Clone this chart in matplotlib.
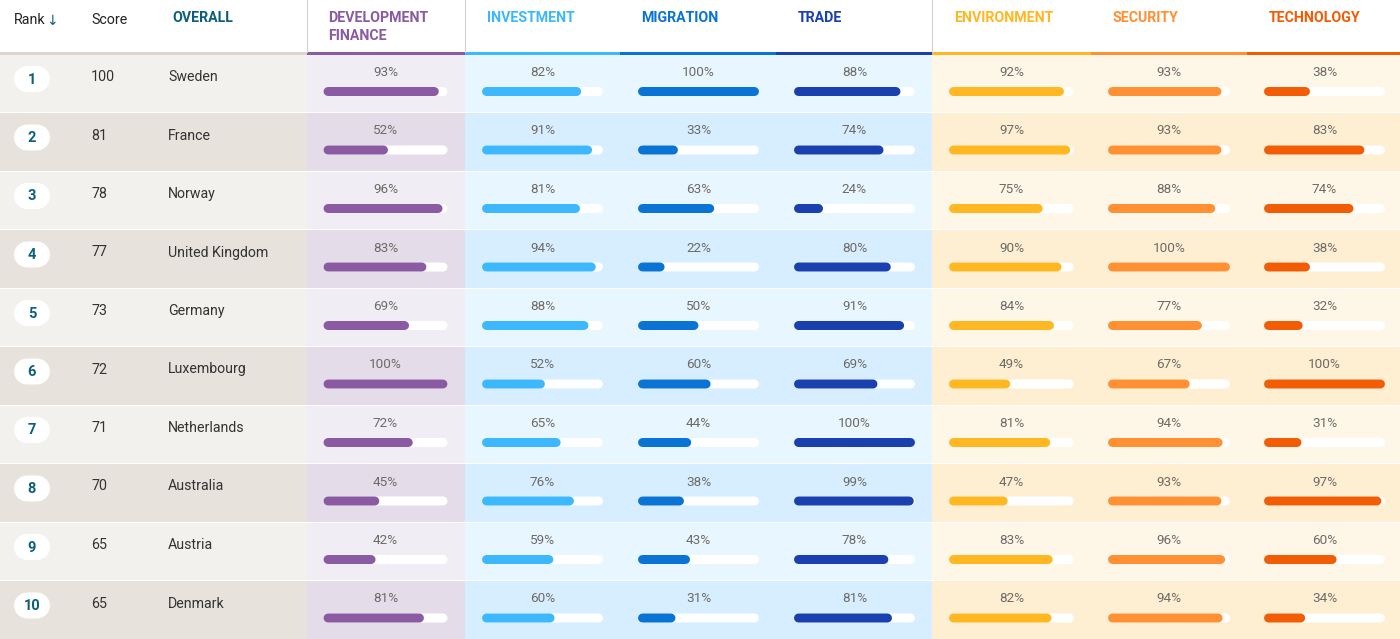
import matplotlib
matplotlib.use("Agg")
import matplotlib.pyplot as plt
from matplotlib.patches import Rectangle

ranks = list(range(1, 11))
scores = [100, 81, 78, 77, 73, 72, 71, 70, 65, 65]
countries = ["Sweden", "France", "Norway", "United Kingdom", "Germany",
             "Luxembourg", "Netherlands", "Australia", "Austria", "Denmark"]
development_finance = [93, 52, 96, 83, 69, 100, 72, 45, 42, 81]
investment = [82, 91, 81, 94, 88, 52, 65, 76, 59, 60]
migration = [100, 33, 63, 22, 50, 60, 44, 38, 43, 31]
trade = [88, 74, 24, 80, 91, 69, 100, 99, 78, 81]
environment = [92, 97, 75, 90, 84, 49, 81, 47, 83, 82]
security = [93, 93, 88, 100, 77, 67, 94, 93, 96, 94]
technology = [38, 83, 74, 38, 32, 100, 31, 97, 60, 34]

series = [development_finance, investment, migration, trade, environment, security, technology]
headers = [["DEVELOPMENT", "FINANCE"], ["INVESTMENT"], ["MIGRATION"], ["TRADE"],
           ["ENVIRONMENT"], ["SECURITY"], ["TECHNOLOGY"]]
colors = ["#8a5ba2", "#3db8fd", "#0a74d4", "#1a3fae", "#ffb722", "#ff9033", "#f25c05"]
bg_light = ["#f1edf5", "#e8f6ff", "#e8f6ff", "#e8f6ff", "#fef7e8", "#fef7e8", "#fef7e8"]
bg_dark = ["#e5dcea", "#d6eeff", "#d6eeff", "#d6eeff", "#feefd3", "#feefd3", "#feefd3"]
col_edges = [307, 465, 620, 776, 932, 1091, 1247, 1400]
bar_x0 = [323.5, 482, 638, 794, 949, 1108, 1264]
bar_w = [124, 121, 121, 121, 125, 122, 121]
head_x = [328.5, 486.7, 641.5, 797.5, 953.7, 1112.7, 1268.5]

TEAL = "#0b5f7c"
ROW_H = 58.5
TOP = 54.5
plt.rcParams["font.family"] = ["Roboto", "DejaVu Sans"]

fig = plt.figure(figsize=(14, 6.39), dpi=100, facecolor="white")
ax = fig.add_axes([0, 0, 1, 1])
ax.set_xlim(0, 1400)
ax.set_ylim(639, 0)
ax.axis("off")


def pill(x, y, w, h, color, z):
    r = h / 2
    ax.plot([x + r, x + max(w - r, r + 0.01)], [y + r, y + r], color=color,
            lw=h * 0.72, solid_capstyle="round", zorder=z, snap=False)


for i, (rk, sc, name) in enumerate(zip(ranks, scores, countries)):
    y = TOP + i * ROW_H
    shade = "#f3f1ee" if i % 2 == 0 else "#e7e2dc"
    ax.add_patch(Rectangle((0, y), 307, ROW_H - 1, fc=shade, ec="none", zorder=1))
    pill(14, y + 11.5, 36, 26, "white", 3)
    ax.text(32, y + 25, str(rk), ha="center", va="center", fontsize=10.5, fontweight="bold", color=TEAL, zorder=4)
    ax.text(91, y + 22.5, str(sc), ha="left", va="center", fontsize=10.3, color="#333333", zorder=4)
    ax.text(168, y + 22.5, name, ha="left", va="center", fontsize=10.2, color="#333333", zorder=4)
    for j, vals in enumerate(series):
        ax.add_patch(Rectangle((col_edges[j], y), col_edges[j + 1] - col_edges[j], ROW_H - 1,
                               fc=(bg_light if i % 2 == 0 else bg_dark)[j], ec="none", zorder=1))
        ax.text(bar_x0[j] + bar_w[j] / 2, y + 18, f"{vals[i]}%", ha="center", va="center",
                fontsize=9.7, color="#6e6a66", zorder=4)
        pill(bar_x0[j], y + 32.5, bar_w[j], 9, "white", 2)
        pill(bar_x0[j], y + 32.5, bar_w[j] * vals[i] / 100, 9, colors[j], 3)

# Header
ax.text(14, 20.5, "Rank", ha="left", va="center", fontsize=10.3, color="#222222")
ax.text(46, 20.5, "↓", ha="left", va="center", fontsize=10, color=TEAL, family="DejaVu Sans")
ax.text(91, 20.5, "Score", ha="left", va="center", fontsize=10.3, color="#222222")
ax.text(172, 18, "OVERALL", ha="left", va="center", fontsize=10.2, fontweight="bold", color=TEAL)
ax.add_patch(Rectangle((0, 52), 307, 3, fc="#ddd6cf", ec="none", zorder=2))
for j, lines in enumerate(headers):
    for k, line in enumerate(lines):
        ax.text(head_x[j], 18 + 17.5 * k, line, ha="left", va="center", fontsize=10.2,
                fontweight="bold", color=colors[j])
    ax.add_patch(Rectangle((col_edges[j], 52), col_edges[j + 1] - col_edges[j], 3,
                           fc=colors[j], ec="none", zorder=2))
for xv in [col_edges[0], col_edges[1], col_edges[4]]:
    ax.plot([xv, xv], [0, 52], color="#d4d0cc", lw=0.8, zorder=2)

fig.savefig("out.png", dpi=100, facecolor="white")
